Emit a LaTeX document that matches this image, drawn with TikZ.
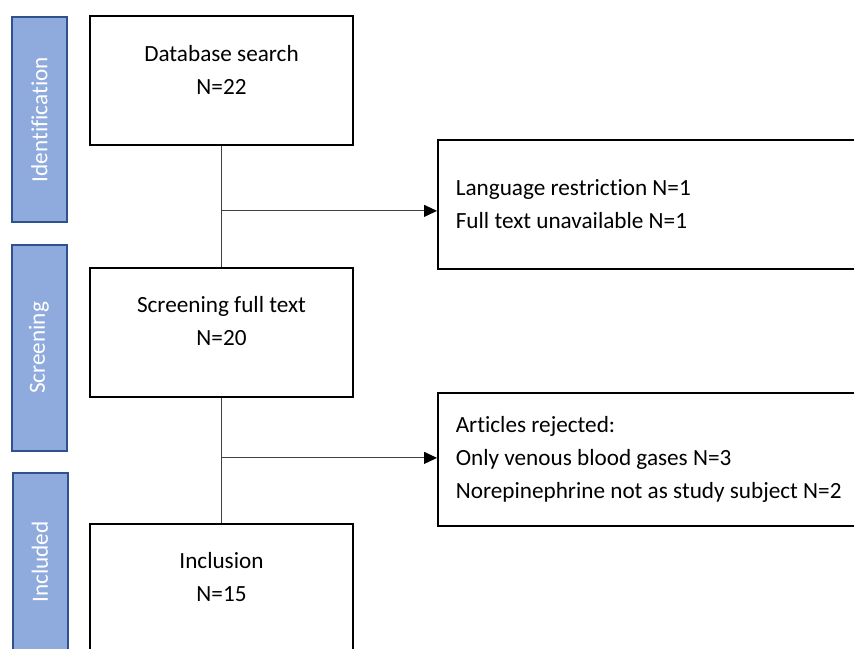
\documentclass[tikz,border=0pt]{standalone}
\usepackage{fontspec}
\setmainfont{Carlito}[Ligatures=CommonOff]
\usetikzlibrary{arrows.meta,calc}
\definecolor{phasefill}{RGB}{143,170,220}
\definecolor{phaseline}{RGB}{47,82,143}
\definecolor{linkgray}{RGB}{64,64,64}
\begin{document}
\begin{tikzpicture}[x=0.5pt,y=-0.5pt,
  font=\fontsize{11.6}{16.5}\selectfont,
  phase/.style={draw=phaseline, line width=1pt, fill=phasefill, text=white, rotate=90, minimum height=27.5pt, inner sep=0pt},
  stage/.style={draw, line width=0.9pt, minimum width=131.5pt, minimum height=64.5pt, inner sep=0pt},
  stagetext/.style={align=center, inner sep=0pt},
  exclbox/.style={draw, line width=0.8pt, anchor=north west, text width=202pt, inner xsep=9pt, minimum height=64.5pt, align=flush left},
  link/.style={draw=linkgray, line width=0.5pt},
  >={Triangle[length=6.5pt,width=6pt,fill=black,color=black]}]
\clip (0,0) rectangle (854,648);
\useasboundingbox (0,0) rectangle (854,648);

\node[phase, minimum width=102.5pt] (idbar) at (39.5,119.5) {Identification};
\node[phase, minimum width=103pt] (scrbar) at (39,348) {Screening};
\node[phase, minimum width=89pt] (incbar) at (40,562) {Included};

\node[stage] (search) at (221.5,80.5) {};
\node[stagetext] (searchtxt) at (221.5,69.5) {Database search\\N=22};
\node[stage] (screen) at (221.5,332.5) {};
\node[stagetext] (screentxt) at (221.5,321.5) {Screening full text\\N=20};
\node[stage] (incl) at (221.5,588.5) {};
\node[stagetext] (incltxt) at (221.5,577.5) {Inclusion\\N=15};

\node[exclbox] (lang) at (437,139) {Language restriction N=1\\Full text unavailable N=1};
\node[exclbox, minimum height=66.5pt] (reject) at (437,392) {Articles rejected:\\Only venous blood gases N=3\\Norepinephrine not as study subject N=2};

\draw[link] (search.south) -- (screen.north);
\path (search.south) ++(0,65) coordinate (j1);
\draw[link,->] (j1) -- (j1 -| lang.west);
\draw[link] (screen.south) -- (incl.north);
\path (screen.south) ++(0,60) coordinate (j2);
\draw[link,->] (j2) -- (j2 -| reject.west);
\end{tikzpicture}
\end{document}
